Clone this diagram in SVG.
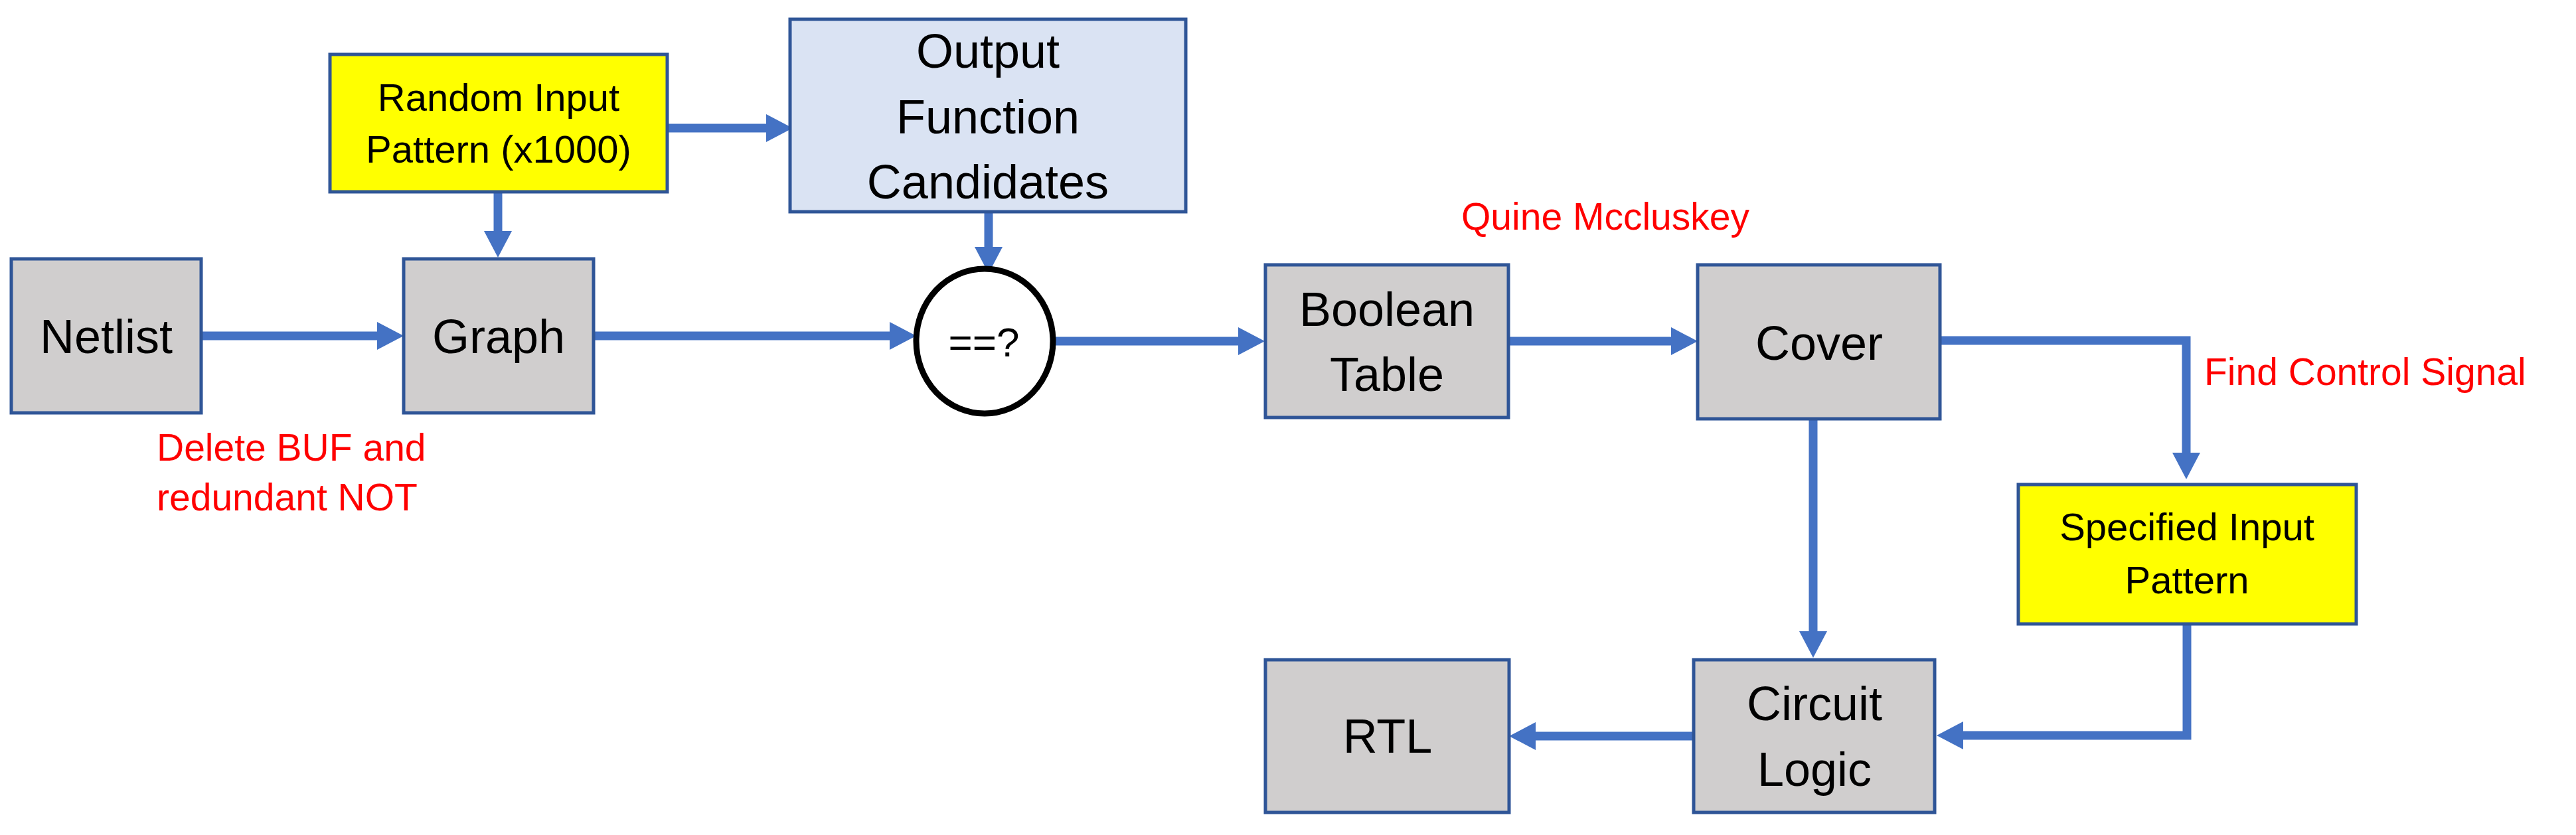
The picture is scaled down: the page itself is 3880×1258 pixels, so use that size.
<svg xmlns="http://www.w3.org/2000/svg" width="3880" height="1258" viewBox="0 0 3880 1258">
<style>
.box{stroke:#2F5597;stroke-width:5}
.gray{fill:#D0CECE}
.yel{fill:#FFFF00}
.blue{fill:#DAE3F3}
.lbl{font-family:"Liberation Sans",Arial,sans-serif;font-size:72px;fill:#000;text-anchor:middle}
.sm{font-size:58px}
.red{font-family:"Liberation Sans",Arial,sans-serif;font-size:57px;fill:#FF0000}
.conn{fill:none;stroke:#4472C4;stroke-width:13;stroke-linejoin:miter;marker-end:url(#ah)}
</style>
<defs>
<marker id="ah" viewBox="0 0 40 42" markerWidth="40" markerHeight="42" refX="1" refY="21" markerUnits="userSpaceOnUse" orient="auto">
<path d="M0,0 L40,21 L0,42 z" fill="#4472C4"/>
</marker>
</defs>
<rect width="3880" height="1258" fill="#fff"/>
<g id="connectors">
<path class="conn" d="M1005,193 H1155"/>
<path class="conn" d="M750,290 V349"/>
<path class="conn" d="M303,506 H569"/>
<path class="conn" d="M894,506 H1341"/>
<path class="conn" d="M1489,319 V373"/>
<path class="conn" d="M1587,514 H1866"/>
<path class="conn" d="M2272,514 H2518"/>
<path class="conn" d="M2922,513 H3293 V683"/>
<path class="conn" d="M2731,631 V952"/>
<path class="conn" d="M3294,940 V1108 H2956"/>
<path class="conn" d="M2551,1109 H2312"/>
</g>
<g id="random">
<rect class="box yel" x="497" y="82" width="508" height="207"/>
<text class="lbl sm" x="751" y="167">Random Input</text>
<text class="lbl sm" x="751" y="245">Pattern (x1000)</text>
</g>
<g id="output">
<rect class="box blue" x="1190" y="29" width="596" height="290"/>
<text class="lbl" x="1488" y="102">Output</text>
<text class="lbl" x="1488" y="201">Function</text>
<text class="lbl" x="1488" y="299">Candidates</text>
</g>
<g id="netlist">
<rect class="box gray" x="17" y="390" width="286" height="232"/>
<text class="lbl" x="160" y="532">Netlist</text>
</g>
<g id="graph">
<rect class="box gray" x="608" y="390" width="286" height="232"/>
<text class="lbl" x="751" y="532">Graph</text>
</g>
<g id="compare">
<ellipse cx="1483" cy="514" rx="103" ry="109" fill="#fff" stroke="#000" stroke-width="9"/>
<text class="lbl" x="1482" y="537" style="font-size:62px">==?</text>
</g>
<g id="boolean">
<rect class="box gray" x="1906" y="399" width="366" height="230"/>
<text class="lbl" x="2089" y="491">Boolean</text>
<text class="lbl" x="2089" y="589">Table</text>
</g>
<g id="cover">
<rect class="box gray" x="2557" y="399" width="365" height="232"/>
<text class="lbl" x="2740" y="542">Cover</text>
</g>
<g id="specified">
<rect class="box yel" x="3040" y="730" width="509" height="210"/>
<text class="lbl sm" x="3294" y="814">Specified Input</text>
<text class="lbl sm" x="3294" y="894">Pattern</text>
</g>
<g id="circuit">
<rect class="box gray" x="2551" y="994" width="363" height="230"/>
<text class="lbl" x="2733" y="1085">Circuit</text>
<text class="lbl" x="2733" y="1184">Logic</text>
</g>
<g id="rtl">
<rect class="box gray" x="1906" y="994" width="367" height="230"/>
<text class="lbl" x="2090" y="1134">RTL</text>
</g>
<g id="annotations">
<text class="red" x="236" y="694">Delete BUF and</text>
<text class="red" x="236" y="769">redundant NOT</text>
<text class="red" x="2201" y="346">Quine Mccluskey</text>
<text class="red" x="3320" y="580">Find Control Signal</text>
</g>
</svg>
